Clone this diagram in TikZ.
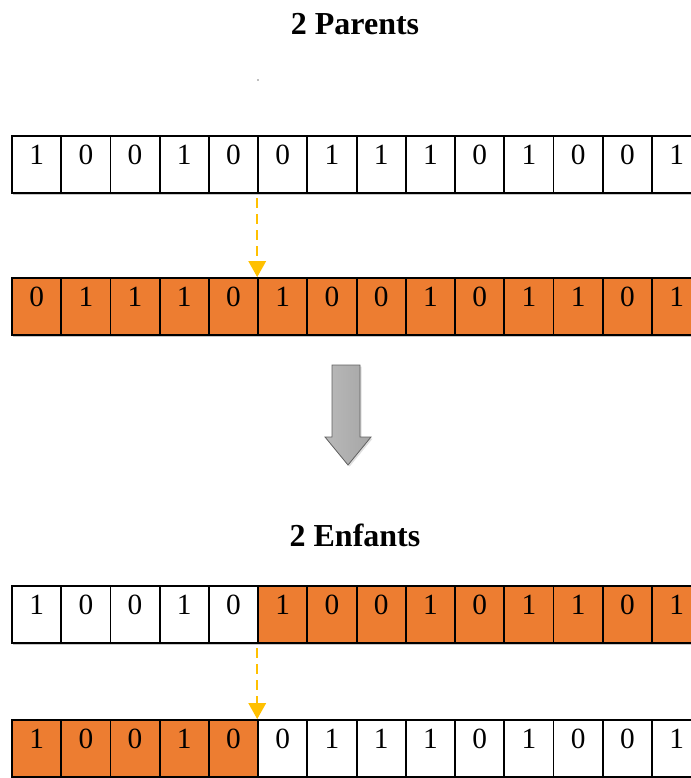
\documentclass[tikz,border=0pt]{standalone}
\usepackage{fontspec}
\setmainfont{Liberation Serif}
\usetikzlibrary{arrows.meta,shadows}
\definecolor{geneorange}{HTML}{ED7D31}
\definecolor{cutyellow}{HTML}{FFC000}
\begin{document}
\begin{tikzpicture}[x=0.75pt,y=-0.75pt,
  bit/.style={draw=black,line width=1.4pt,minimum width=36.92pt,minimum height=42.4pt,
    inner sep=0pt,text height=0.55em,text depth=0.45em,font=\fontsize{22}{26}\selectfont},
  white bit/.style={bit,fill=white},
  orange bit/.style={bit,fill=geneorange},
  rowshadow/.style={fill=black!22},
  title/.style={font=\fontsize{24}{28}\selectfont\bfseries,inner sep=0pt},
  cut/.style={draw=cutyellow,line width=1.6pt,dash pattern=on 7pt off 5pt,
    -{Triangle[width=13pt,length=12pt]}}
]
\useasboundingbox (0,0) rectangle (691,778);
\clip (0,0) rectangle (691,778);

% titles
\node[title,anchor=base] (parents) at (355,34.5) {2 Parents};
\node[title,anchor=base] (children) at (355,546) {2 Enfants};
\fill[gray] (258,80) circle (0.9);

% soft shadows under each chromosome
\foreach \top in {136,278,586,720}
  \fill[rowshadow] (13,\top+3) rectangle (703,\top+59);

% parent 1
\foreach \b [count=\c] in {1,0,0,1,0,0,1,1,1,0,1,0,0,1}
  \node[white bit] (a\c) at ({12+(\c-0.5)*49.23},164.3) {\b};
% parent 2
\foreach \b [count=\c] in {0,1,1,1,0,1,0,0,1,0,1,1,0,1}
  \node[orange bit] (b\c) at ({12+(\c-0.5)*49.23},306.3) {\b};
% child 1
\foreach \b [count=\c] in {1,0,0,1,0}
  \node[white bit] (c\c) at ({12+(\c-0.5)*49.23},614.3) {\b};
\foreach \b [count=\c from 6] in {1,0,0,1,0,1,1,0,1}
  \node[orange bit] (c\c) at ({12+(\c-0.5)*49.23},614.3) {\b};
% child 2
\foreach \b [count=\c] in {1,0,0,1,0}
  \node[orange bit] (d\c) at ({12+(\c-0.5)*49.23},748.3) {\b};
\foreach \b [count=\c from 6] in {0,1,1,1,0,1,0,0,1}
  \node[white bit] (d\c) at ({12+(\c-0.5)*49.23},748.3) {\b};

% crossover points
\draw[cut] ([yshift=-3.5pt]a6.south west) -- (b6.north west);
\draw[cut] ([yshift=-3.5pt]c6.south west) -- (d6.north west);

% big grey arrow
\path[draw=gray!75!black,line width=0.6pt,
  left color=gray!55,middle color=gray!18,right color=gray!70,
  drop shadow={opacity=0.25,shadow xshift=1.2pt,shadow yshift=-1.2pt}]
  (332,365) -- (360,365) -- (360,437) -- (371,437) -- (348,465)
  -- (325,437) -- (332,437) -- cycle;
\end{tikzpicture}
\end{document}
